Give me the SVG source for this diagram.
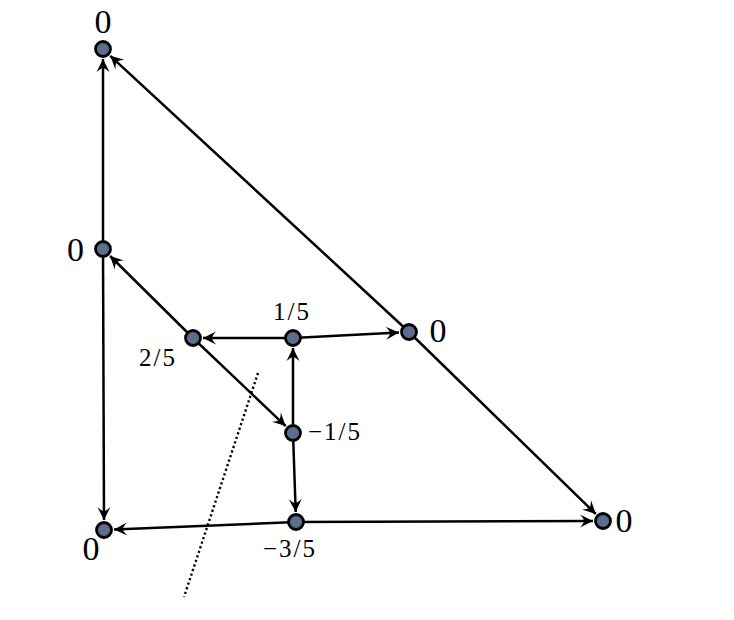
<svg xmlns="http://www.w3.org/2000/svg" width="734" height="620" viewBox="0 0 734 620">
<defs>
<style>
.e{stroke:#000;stroke-width:2.5;fill:none;marker-end:url(#ah)}
.n{fill:#5b6e8b;stroke:#000;stroke-width:2.8}
.big{font-family:"Liberation Serif","DejaVu Serif",serif;font-size:34px;fill:#000}
.sm{font-family:"Liberation Serif","DejaVu Serif",serif;font-size:25px;letter-spacing:2px;fill:#000}
</style>
<marker id="ah" markerUnits="userSpaceOnUse" markerWidth="16" markerHeight="14" viewBox="-14 -7 15 14" refX="0" refY="0" orient="auto">
<path d="M-13,-6.5 Q-8,-1 -9.5,0 Q-8,1 -13,6.5 L0,0 Z" fill="#000"/>
</marker>
</defs>
<g id="connectors">
<line class="e" x1="103" y1="249" x2="103" y2="59"/>
<line class="e" x1="409" y1="332" x2="110.3" y2="55.8"/>
<line class="e" x1="409" y1="332" x2="595.8" y2="514"/>
<line class="e" x1="103" y1="249" x2="104" y2="520"/>
<line class="e" x1="193" y1="338" x2="110.1" y2="256"/>
<line class="e" x1="293" y1="338" x2="203" y2="338"/>
<line class="e" x1="293" y1="338" x2="399" y2="332.5"/>
<line class="e" x1="193" y1="338" x2="285.7" y2="426.1"/>
<line class="e" x1="293" y1="433" x2="293" y2="348"/>
<line class="e" x1="293" y1="433" x2="295.7" y2="512"/>
<line class="e" x1="296" y1="522" x2="114" y2="529.6"/>
<line class="e" x1="296" y1="522" x2="593" y2="521"/>
<line x1="258" y1="373" x2="184" y2="597" stroke="#000" stroke-width="2.4" stroke-dasharray="2.2 2.6"/>
</g>
<g id="nA"><circle class="n" cx="103" cy="49" r="7.5"/><text class="big" x="103" y="33" text-anchor="middle">0</text></g>
<g id="nB"><circle class="n" cx="103" cy="249" r="7.5"/><text class="big" x="75.5" y="261" text-anchor="middle">0</text></g>
<g id="nC"><circle class="n" cx="104" cy="530" r="7.5"/><text class="big" x="91" y="560" text-anchor="middle">0</text></g>
<g id="nD"><circle class="n" cx="193" cy="338" r="7.5"/><text class="sm" x="158" y="366" text-anchor="middle">2/5</text></g>
<g id="nE"><circle class="n" cx="293" cy="338" r="7.5"/><text class="sm" x="292" y="320" text-anchor="middle">1/5</text></g>
<g id="nF"><circle class="n" cx="409" cy="332" r="7.5"/><text class="big" x="438" y="342" text-anchor="middle">0</text></g>
<g id="nG"><circle class="n" cx="293" cy="433" r="7.5"/><text class="sm" x="308" y="440">−1/5</text></g>
<g id="nH"><circle class="n" cx="296" cy="522" r="7.5"/><text class="sm" x="290" y="557" text-anchor="middle">−3/5</text></g>
<g id="nI"><circle class="n" cx="603" cy="521" r="7.5"/><text class="big" x="624" y="532" text-anchor="middle">0</text></g>
</svg>
